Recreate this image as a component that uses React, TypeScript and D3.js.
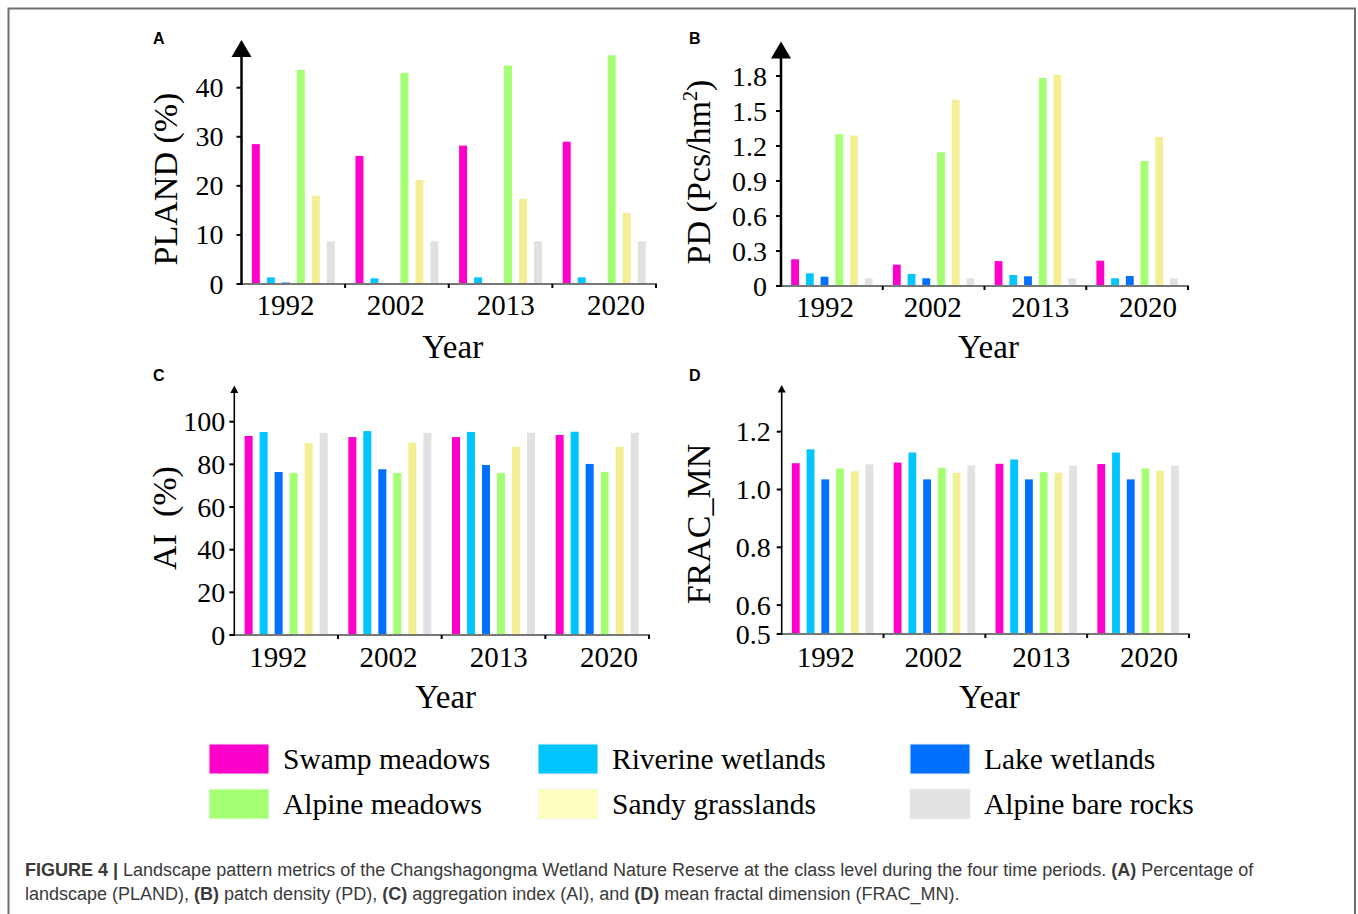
import React from 'react'
import * as d3 from 'd3'

const years = ['1992', '2002', '2013', '2020']
const classes = ['Swamp meadows', 'Riverine wetlands', 'Lake wetlands', 'Alpine meadows', 'Sandy grasslands', 'Alpine bare rocks']
const barColors = ['#ff00cc', '#00c5ff', '#0070ff', '#a5ff73', '#f4ef95', '#e1e1e1']
const legendColors = ['#ff00cc', '#00c5ff', '#0070ff', '#a5ff73', '#ffffc0', '#e1e1e1']

// one row per year, columns follow `classes`
const pland = [
  [28.5, 1.35, 0.3, 43.6, 18.0, 8.7],
  [26.1, 1.15, 0.2, 43.0, 21.2, 8.7],
  [28.2, 1.35, 0.2, 44.5, 17.4, 8.7],
  [29.0, 1.35, 0.2, 46.6, 14.5, 8.7]
]
const pd = [
  [0.229, 0.109, 0.08, 1.3, 1.29, 0.066],
  [0.183, 0.103, 0.066, 1.146, 1.597, 0.066],
  [0.214, 0.094, 0.083, 1.783, 1.811, 0.066],
  [0.217, 0.066, 0.086, 1.071, 1.277, 0.066]
]
const ai = [
  [93.3, 95.2, 76.4, 75.9, 90.0, 94.8],
  [92.8, 95.6, 77.7, 75.9, 90.2, 94.8],
  [92.8, 95.2, 79.7, 75.9, 88.3, 94.8],
  [93.75, 95.3, 80.2, 76.4, 88.3, 94.8]
]
const fracMn = [
  [1.091, 1.139, 1.035, 1.073, 1.063, 1.087],
  [1.093, 1.128, 1.035, 1.075, 1.058, 1.083],
  [1.089, 1.104, 1.035, 1.06, 1.058, 1.083],
  [1.088, 1.128, 1.035, 1.073, 1.065, 1.083]
]

const plandTicks = [0, 10, 20, 30, 40]
const pdTicks = [0, 0.3, 0.6, 0.9, 1.2, 1.5, 1.8]
const aiTicks = [0, 20, 40, 60, 80, 100]
const fracTicks = [0.5, 0.6, 0.8, 1.0, 1.2]

const serif = '"Liberation Serif", "Times New Roman", serif'
const sans = '"Liberation Sans", Arial, Helvetica, sans-serif'

const fmtInt = d3.format('d')
const fmtDec = (v) => (v === 0 ? '0' : d3.format('.1f')(v))

function Panel (props) {
  const { letter, x0, x1, yZero, yTop, domain, ticks, fmt, data, label, labelX, labelY,
    bigArrow, arrowTip, labelGap, yearBase, titleBase } = props

  const x = d3.scaleBand().domain(years).range([x0, x1]).padding(0)
  const inner = d3.scaleBand().domain(classes).range([0, x.bandwidth()])
    .paddingInner(0.467).paddingOuter(0.69)
  const y = d3.scaleLinear().domain(domain).range([yZero, yTop])
  const yearPos = d3.scalePoint().domain(years).range([x0 + 44, x1 - 40])

  const arrowH = bigArrow ? 17 : 7.5
  const arrowW = bigArrow ? 10 : 4
  const axisW = bigArrow ? 2.5 : 1.6

  return (
    <g>
      <text x={letter.x} y={letter.y} fontFamily={sans} fontWeight='bold' fontSize={16}>{letter.t}</text>

      {data.map((row, i) => (
        <g key={years[i]} transform={`translate(${x(years[i])},0)`}>
          {row.map((v, j) => (
            <rect key={classes[j]} x={inner(classes[j])} y={y(v)} width={inner.bandwidth()}
              height={yZero - y(v)} fill={barColors[j]} />
          ))}
        </g>
      ))}

      {/* x axis */}
      <line x1={x0} x2={x1 + 1} y1={yZero} y2={yZero} stroke='#777' strokeWidth={2} />
      {years.map(yr => (
        <line key={yr} x1={x(yr) + x.bandwidth()} x2={x(yr) + x.bandwidth()} y1={yZero} y2={yZero + 4}
          stroke='#000' strokeWidth={2} />
      ))}
      {years.map(yr => (
        <text key={yr} x={yearPos(yr)} y={yearBase} textAnchor='middle' fontFamily={serif} fontSize={29}>{yr}</text>
      ))}
      <text x={(x0 + x1) / 2 + 4} y={titleBase} textAnchor='middle' fontFamily={serif} fontSize={33}>Year</text>

      {/* y axis */}
      <line x1={x0} x2={x0} y1={yZero + 1} y2={arrowTip + arrowH - 1} stroke='#000' strokeWidth={axisW} />
      <path d={`M${x0},${arrowTip}L${x0 + arrowW},${arrowTip + arrowH}L${x0 - arrowW},${arrowTip + arrowH}Z`} fill='#000' />
      {ticks.map(t => (
        <g key={t}>
          <line x1={x0 - 5} x2={x0} y1={y(t)} y2={y(t)} stroke='#000' strokeWidth={2} />
          <text x={x0 - labelGap} y={y(t)} dy='0.34em' textAnchor='end' fontFamily={serif} fontSize={28}>{fmt(t)}</text>
        </g>
      ))}
      <text transform={`translate(${labelX},${labelY}) rotate(-90)`} textAnchor='middle' fontFamily={serif}
        fontSize={34} style={{ whiteSpace: 'pre' }}>{label}</text>
    </g>
  )
}

const legendCols = [209, 538, 910]
const legendRows = [744, 789]

function Legend () {
  return (
    <g>
      {classes.map((c, i) => {
        const lx = legendCols[i % 3]
        const ly = legendRows[Math.floor(i / 3)]
        return (
          <g key={c}>
            <rect x={lx} y={ly} width={60} height={30} fill={legendColors[i]} stroke='#f2f2f2' strokeWidth={1} />
            <text x={lx + 74} y={ly + 25} fontFamily={serif} fontSize={29.5}>{c}</text>
          </g>
        )
      })}
    </g>
  )
}

export default function App () {
  return (
    <svg width={1358} height={914} viewBox='0 0 1358 914'
      style={{ position: 'absolute', left: 0, top: 0, background: '#fff' }}>
      <rect x={0} y={0} width={1358} height={914} fill='#fff' />
      <path d='M8.5,930V8.5H1355V930' fill='none' stroke='#6e6e6e' strokeWidth={2} />

      <Panel letter={{ t: 'A', x: 153, y: 44 }} x0={241.5} x1={656} yZero={284} yTop={87.7}
        domain={[0, 40]} ticks={plandTicks} fmt={fmtInt} data={pland}
        label='PLAND (%)' labelX={177} labelY={179}
        bigArrow arrowTip={40} labelGap={18} yearBase={315} titleBase={358} />

      <Panel letter={{ t: 'B', x: 689, y: 44 }} x0={781} x1={1188} yZero={286} yTop={76}
        domain={[0, 1.8]} ticks={pdTicks} fmt={fmtDec} data={pd}
        label={<>PD (Pcs/hm<tspan fontSize={20} dy={-13}>2</tspan><tspan dy={13}>)</tspan></>}
        labelX={710} labelY={172}
        bigArrow arrowTip={41.5} labelGap={14} yearBase={316.5} titleBase={358} />

      <Panel letter={{ t: 'C', x: 153, y: 381 }} x0={234.3} x1={649} yZero={635} yTop={421.7}
        domain={[0, 100]} ticks={aiTicks} fmt={fmtInt} data={ai}
        label='AI  (%)' labelX={176} labelY={518}
        bigArrow={false} arrowTip={385.5} labelGap={9} yearBase={667} titleBase={708} />

      <Panel letter={{ t: 'D', x: 689, y: 381 }} x0={781.7} x1={1189} yZero={634} yTop={431.7}
        domain={[0.5, 1.2]} ticks={fracTicks} fmt={fmtDec} data={fracMn}
        label='FRAC_MN' labelX={710} labelY={524}
        bigArrow={false} arrowTip={385} labelGap={11} yearBase={667} titleBase={708} />

      <Legend />

      <text x={25} y={876} fontFamily={sans} fontSize={18} fill='#3a3a3a'>
        <tspan fontWeight='bold'>FIGURE 4 |</tspan> Landscape pattern metrics of the Changshagongma Wetland Nature Reserve at the class level during the four time periods. <tspan fontWeight='bold'>(A)</tspan> Percentage of
      </text>
      <text x={25} y={900} fontFamily={sans} fontSize={18} fill='#3a3a3a'>
        landscape (PLAND), <tspan fontWeight='bold'>(B)</tspan> patch density (PD), <tspan fontWeight='bold'>(C)</tspan> aggregation index (AI), and <tspan fontWeight='bold'>(D)</tspan> mean fractal dimension (FRAC_MN).
      </text>
    </svg>
  )
}
